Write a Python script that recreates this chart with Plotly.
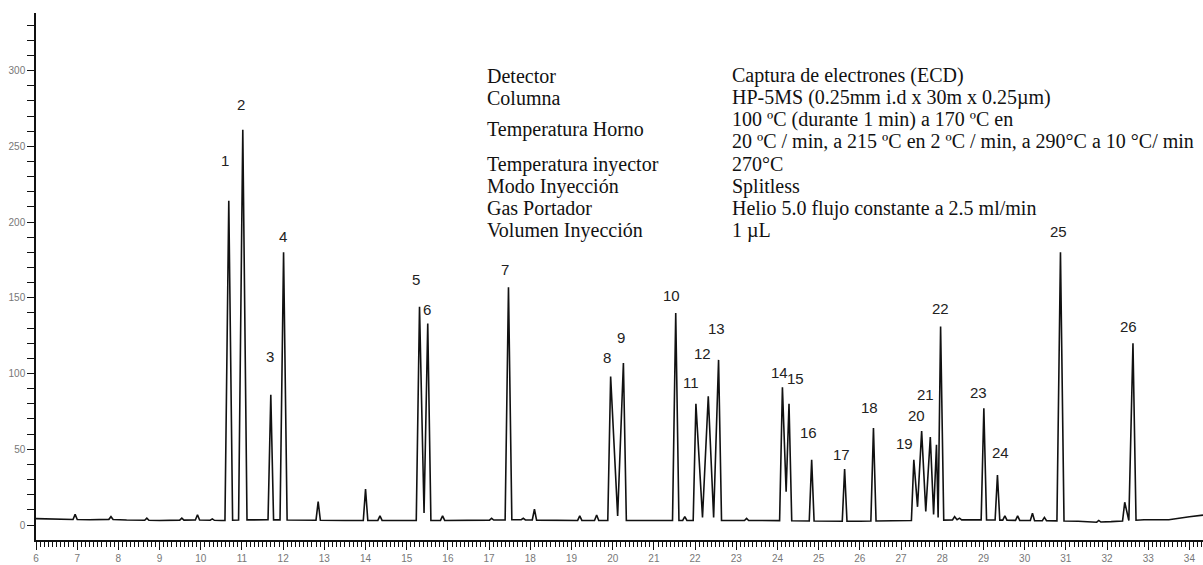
import numpy as np
import plotly.graph_objects as go

# ---- Chromatogram data: retention time (min) and ECD response ----
peak_no = [str(n) for n in range(1, 27)]
peak_rt = [10.68, 11.02, 11.70, 12.01, 15.31, 15.51, 17.47, 19.95, 20.26, 21.53,
           22.02, 22.32, 22.57, 24.12, 24.28, 24.83, 25.63, 26.33, 27.31, 27.50,
           27.71, 27.96, 29.01, 29.34, 30.87, 32.63]
peak_height = [214, 261, 86, 180, 144, 133, 157, 98, 107, 140,
               80, 85, 109, 91, 80, 43, 37, 64, 43, 62,
               58, 131, 77, 33, 180, 120]

# small unlabelled peaks
minor_rt = [6.95, 7.82, 8.69, 9.54, 9.92, 10.28, 12.85, 14.00, 14.35, 15.87,
            17.06, 17.83, 18.10, 19.20, 19.61, 21.75, 23.25, 27.86, 28.30, 28.42,
            29.52, 29.83, 30.19, 30.48, 31.80, 32.43]
minor_height = [7.0, 5.5, 4.5, 4.5, 6.8, 4.0, 15.4, 23.7, 6.0, 6.0,
                4.4, 4.4, 10.4, 6.0, 6.6, 5.5, 4.4, 53.0, 5.5, 4.5,
                6.0, 6.0, 7.7, 5.0, 3.0, 15.0]

# valleys between co-eluting peaks
valley_rt = [15.42, 20.12, 22.18, 22.45, 24.21, 27.40, 27.60, 27.79, 27.90, 28.36, 32.53]
valley_level = [8, 6, 5, 5, 22, 12, 9, 7, 5, 3.5, 3]

# baseline level
baseline_rt = [6.0, 6.5, 7.3, 7.6, 8.2, 9.0, 9.3, 10.0, 10.5, 11.3, 12.3, 13.5, 14.8,
               16.5, 17.7, 18.5, 20.8, 23.7, 25.2, 26.0, 26.8, 28.7, 30.0, 31.3,
               31.7, 32.1, 32.9, 33.5, 34.0, 34.33]
baseline_level = [4.2, 3.8, 3.5, 3.9, 3.3, 3.0, 3.2, 3.3, 3.0, 3.5, 3.3, 3.0, 3.0,
                  3.0, 3.5, 3.0, 3.0, 3.0, 2.5, 2.5, 2.8, 3.5, 3.0, 2.5,
                  1.8, 2.2, 3.5, 3.5, 5.5, 6.5]

# chromatographic conditions
cond_names = ["Detector", "Columna", "Temperatura Horno", "Temperatura inyector",
              "Modo Inyección", "Gas Portador", "Volumen Inyección"]
cond_values = ["Captura de electrones (ECD)",
               "HP-5MS (0.25mm i.d x 30m x 0.25µm)",
               "100 ºC (durante 1 min) a 170 ºC en",
               "20 ºC / min, a 215 ºC en 2 ºC / min, a 290°C a 10 °C/ min",
               "270°C",
               "Splitless",
               "Helio 5.0 flujo constante a 2.5 ml/min",
               "1 µL"]

# ---- build the trace polyline from the peak tables ----
apex_rt = np.array(peak_rt + minor_rt)
apex_h = np.array(peak_height + minor_height, dtype=float)
order = np.argsort(apex_rt)
apex_rt, apex_h = apex_rt[order], apex_h[order]
v_rt = np.array(valley_rt)
v_lv = np.array(valley_level)


def base_at(t):
    return float(np.interp(t, baseline_rt, baseline_level))


pts = []
spans = []
span_start = None
n = len(apex_rt)
for k in range(n):
    t, h = apex_rt[k], apex_h[k]
    hw = 0.05 + 0.0002 * h
    joined_left = k > 0 and np.any((v_rt > apex_rt[k - 1]) & (v_rt < t))
    if not joined_left:
        pts.append((t - hw, base_at(t - hw)))
        span_start = t - hw
    pts.append((t, h))
    if k < n - 1:
        m = (v_rt > t) & (v_rt < apex_rt[k + 1])
    else:
        m = np.zeros_like(v_rt, dtype=bool)
    if np.any(m):
        j = np.argmax(m)
        pts.append((v_rt[j], v_lv[j]))
    else:
        pts.append((t + hw, base_at(t + hw)))
        spans.append((span_start, t + hw))

for bt, bl in zip(baseline_rt, baseline_level):
    if not any(a <= bt <= b for a, b in spans):
        pts.append((bt, bl))

pts.sort(key=lambda p: p[0])
trace_t = [p[0] for p in pts]
trace_y = [p[1] for p in pts]

fig = go.Figure()
fig.add_trace(go.Scatter(x=trace_t, y=trace_y, mode="lines",
                         line=dict(color="#111111", width=1.6),
                         hoverinfo="skip", showlegend=False))

# peak number labels (pixel offsets from each apex)
label_shift = {
    "1": (-4, 40), "2": (-2, 25), "3": (-1, 38), "4": (-1, 16), "5": (-4, 27),
    "6": (-1, 14), "7": (-3, 18), "8": (-4, 19), "9": (-2, 25), "10": (-4, 17),
    "11": (-5, 21), "12": (-6, 43), "13": (-2, 31), "14": (-3, 15), "15": (6, 25),
    "16": (-3, 27), "17": (-3, 14), "18": (-4, 21), "19": (-9, 16), "20": (-5, 16),
    "21": (-5, 43), "22": (0, 18), "23": (-5, 16), "24": (3, 23), "25": (-2, 21),
    "26": (-4, 17),
}
for lab, t, h in zip(peak_no, peak_rt, peak_height):
    dx, dy = label_shift[lab]
    fig.add_annotation(x=t, y=h, text=lab, showarrow=False,
                       xshift=dx, yshift=dy, xanchor="center", yanchor="middle",
                       font=dict(family="Liberation Sans Narrow, Liberation Sans, Arial",
                                 size=15, color="#222222"))

# conditions table (pixel layout inside the plot area)
W, H = 1203, 565
L, R, T, B = 36, 0, 13, 25
pw, ph = W - L - R, H - T - B


def px(x):
    return (x - L) / pw


def py(y):
    return (H - B - y) / ph


name_rows = [76, 98, 129, 164, 186, 208, 230]
value_rows = [76, 98, 119, 141, 164, 186, 208, 230]
serif = dict(family="Liberation Serif, Times New Roman, serif", size=20, color="#111111")
for txt, yy in zip(cond_names, name_rows):
    fig.add_annotation(xref="paper", yref="paper", x=px(485), y=py(yy), text=txt,
                       showarrow=False, xanchor="left", yanchor="middle", font=serif)
for txt, yy in zip(cond_values, value_rows):
    fig.add_annotation(xref="paper", yref="paper", x=px(730), y=py(yy), text=txt,
                       showarrow=False, xanchor="left", yanchor="middle", font=serif)

tickfont = dict(family="Liberation Sans, Arial", size=10, color="#777777")
fig.update_xaxes(range=[6, 34.33], tickmode="linear", tick0=6, dtick=1,
                 ticks="outside", ticklen=8, tickwidth=1, tickcolor="#111111",
                 showline=True, linewidth=2, linecolor="#111111",
                 showgrid=False, zeroline=False, tickfont=tickfont,
                 minor=dict(dtick=0.1, tick0=6, ticks="outside", ticklen=5,
                            tickwidth=1, tickcolor="#111111", showgrid=False))
fig.update_yaxes(range=[-9.9, 338], tickmode="linear", tick0=0, dtick=50,
                 ticks="outside", ticklen=7, tickwidth=1, tickcolor="#111111",
                 showline=True, linewidth=1.5, linecolor="#111111",
                 showgrid=False, zeroline=False, tickfont=tickfont,
                 minor=dict(dtick=10, tick0=0, ticks="outside", ticklen=7,
                            tickwidth=1, tickcolor="#111111", showgrid=False))
fig.update_layout(width=W, height=H, margin=dict(l=L, r=R, t=T, b=B),
                  paper_bgcolor="white", plot_bgcolor="white")

fig.write_html("out.html")
